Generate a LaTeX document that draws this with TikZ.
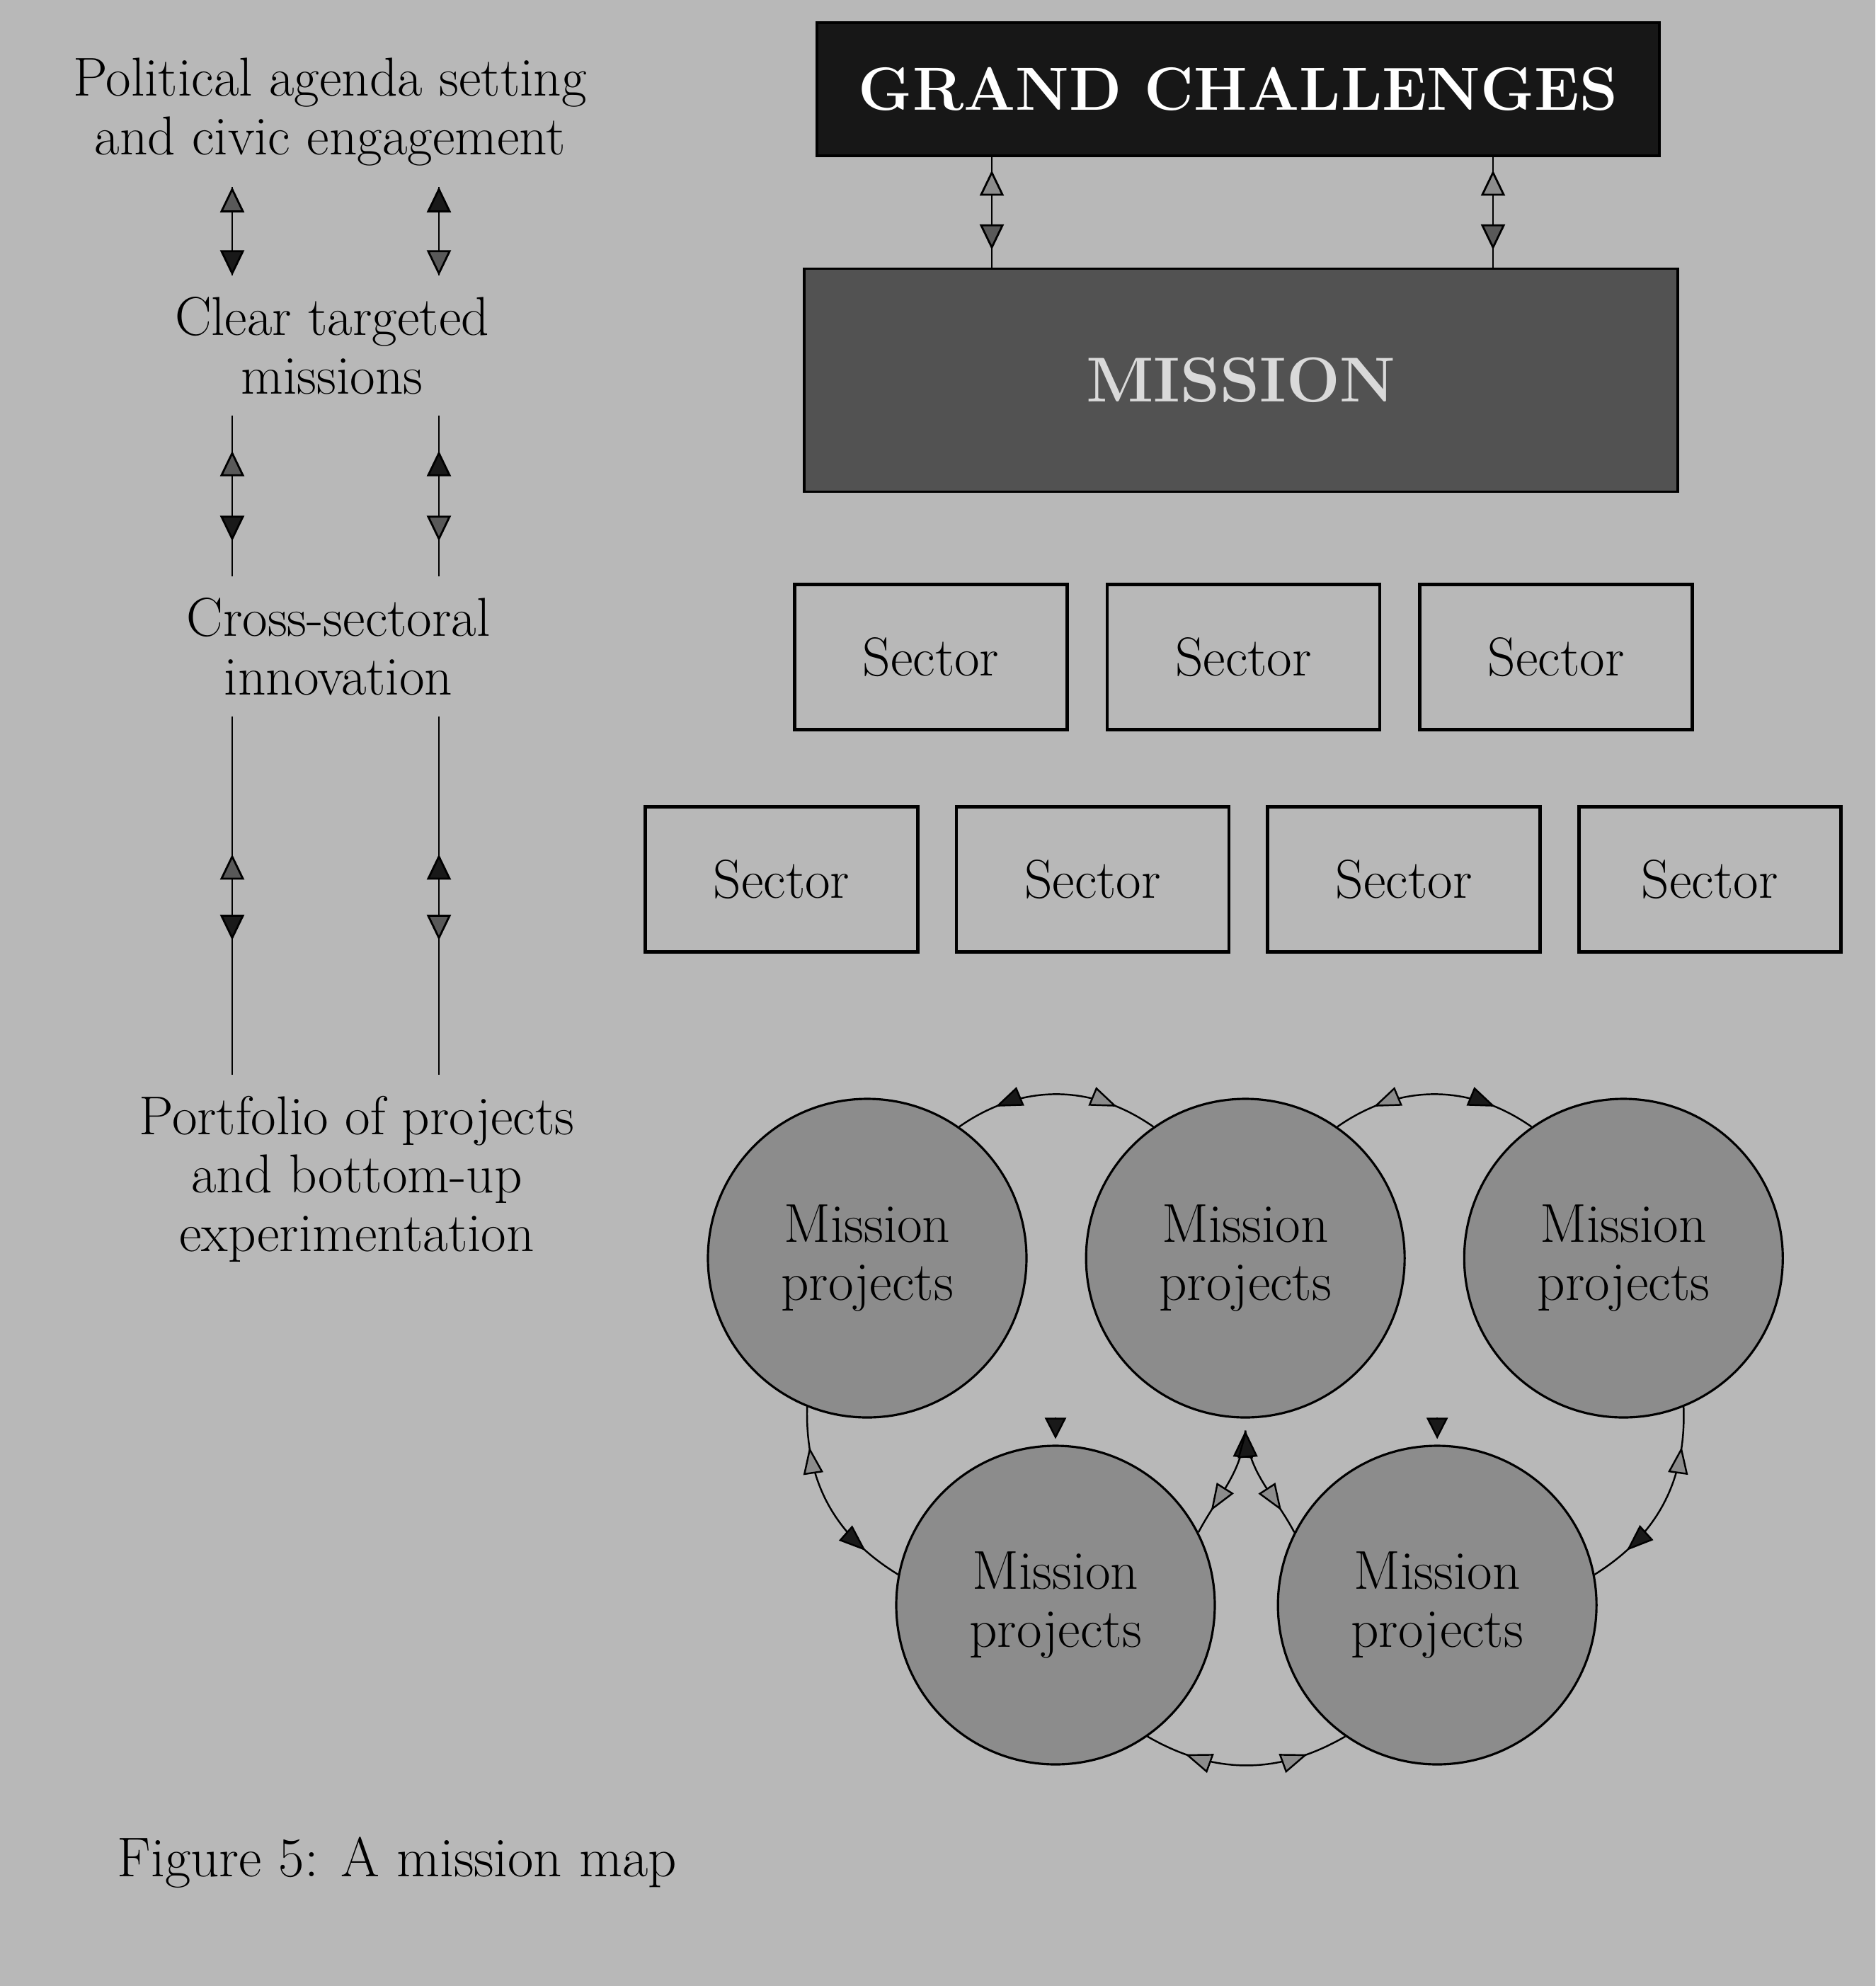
\documentclass[tikz,border=0pt]{standalone}
\usepackage{fontspec}
\usetikzlibrary{arrows.meta,positioning,decorations.markings}
\definecolor{paper}{gray}{0.72}
\definecolor{darkbox}{gray}{0.09}
\definecolor{missionbox}{gray}{0.32}
\definecolor{ringfill}{gray}{0.55}
\definecolor{tipdark}{gray}{0.1}
\definecolor{tipmid}{gray}{0.35}
\definecolor{tiplight}{gray}{0.55}

\begin{document}
\begin{tikzpicture}[
  node distance=0.52cm,
  stage/.style={font=\fontsize{22}{23.5}\selectfont, align=center, inner sep=0pt, outer ysep=3mm},
  banner/.style={draw, line width=1pt, minimum width=11.9cm, minimum height=1.88cm,
    fill=darkbox, text=white, font=\fontsize{24.5}{27}\selectfont\bfseries},
  sector/.style={draw, line width=1.3pt, minimum width=3.85cm, minimum height=2.05cm,
    font=\fontsize{22}{24}\selectfont},
  project/.style={draw, circle, line width=0.9pt, fill=ringfill, minimum size=4.5cm,
    inner sep=0pt, align=center, font=\fontsize{22}{23.5}\selectfont},
  twoway/.style n args={4}{line width=0.8pt, decoration={markings,
      mark=at position #1 with {\arrowreversed{Triangle[length=3.6mm,width=3.4mm,fill=#2]}},
      mark=at position #3 with {\arrow{Triangle[length=3.6mm,width=3.4mm,fill=#4]}}},
    postaction={decorate}},
  ringway/.style n args={4}{line width=0.7pt, decoration={markings,
      mark=at position #1 with {\arrowreversed{Triangle[length=3.8mm,width=2.8mm,fill=#2]}},
      mark=at position #3 with {\arrow{Triangle[length=3.8mm,width=2.8mm,fill=#4]}}},
    postaction={decorate}},
  tiponly/.style={line width=0.7pt, -{Triangle[length=3mm,width=3mm,fill=tipdark]}}
]

\fill[paper] (0,0) rectangle (26.49,-28.05);
\useasboundingbox (0,0) rectangle (26.49,-28.05);

% left column
\node[stage] (agenda) at (4.66,-1.58) {Political agenda setting\\and civic engagement};
\node[stage] (targeted) at (4.69,-4.88) {Clear targeted\\missions};
\node[stage] (crosssec) at (4.78,-9.13) {Cross-sectoral\\innovation};
\node[stage] (portfolio) at (5.04,-16.65) {Portfolio of projects\\and bottom-up\\experimentation};
\coordinate (colL) at (3.28,0);
\coordinate (colR) at (6.2,0);

\draw[twoway={0}{tipmid}{1}{tipdark}] (agenda.south -| colL) -- (targeted.north -| colL);
\draw[twoway={0}{tipdark}{1}{tipmid}] (agenda.south -| colR) -- (targeted.north -| colR);
\draw[twoway={0.22}{tipmid}{0.78}{tipdark}] (targeted.south -| colL) -- (crosssec.north -| colL);
\draw[twoway={0.22}{tipdark}{0.78}{tipmid}] (targeted.south -| colR) -- (crosssec.north -| colR);
\draw[twoway={0.385}{tipmid}{0.625}{tipdark}] (crosssec.south -| colL) -- (portfolio.north -| colL);
\draw[twoway={0.385}{tipdark}{0.625}{tipmid}] (crosssec.south -| colR) -- (portfolio.north -| colR);

% top boxes
\node[banner] (grand) at (17.49,-1.26) {GRAND CHALLENGES};
\node[banner, fill=missionbox, text=white!85!black, minimum width=12.34cm,
  minimum height=3.15cm, font=\fontsize{25.5}{28}\selectfont\bfseries] (mission) at (17.53,-5.37) {MISSION};
\coordinate (linkL) at (14.01,0);
\coordinate (linkR) at (21.09,0);
\draw[twoway={0.12}{tiplight}{0.84}{tipmid}] (grand.south -| linkL) -- (mission.north -| linkL);
\draw[twoway={0.12}{tiplight}{0.84}{tipmid}] (grand.south -| linkR) -- (mission.north -| linkR);

% sectors
\node[sector] (sec1) at (13.15,-9.28) {Sector};
\node[sector, right=of sec1] (sec2) {Sector};
\node[sector, right=of sec2] (sec3) {Sector};
\node[sector] (sec4) at (11.04,-12.42) {Sector};
\node[sector, right=0.5cm of sec4] (sec5) {Sector};
\node[sector, right=0.5cm of sec5] (sec6) {Sector};
\node[sector, right=0.5cm of sec6, minimum width=3.7cm] (sec7) {Sector};

% mission projects
\node[project] (tl) at (12.25,-17.77) {Mission\\projects};
\node[project, right=0.81cm of tl] (tm) {Mission\\projects};
\node[project, right=0.81cm of tm] (tr) {Mission\\projects};
\node[project] (bl) at (14.91,-22.67) {Mission\\projects};
\node[project, right=0.86cm of bl] (br) {Mission\\projects};

\draw[ringway={0.2}{tipdark}{0.8}{tiplight}] (tl.55) to[bend left=35] (tm.125);
\draw[ringway={0.2}{tiplight}{0.8}{tipdark}] (tm.55) to[bend left=35] (tr.125);
\draw[ringway={0.2}{tiplight}{0.8}{tipdark}] (tl.248) to[bend right=30] (bl.169);
\draw[ringway={0.2}{tiplight}{0.8}{tipdark}] (tr.292) to[bend left=30] (br.11);
\draw[ringway={0.2}{tiplight}{0.8}{tiplight}] (bl.305) to[bend right=30] (br.235);
\coordinate[below=0.17cm of tm.south] (fork);
\draw[ringway={0}{tipdark}{0.78}{tiplight}] (fork) to[out=-95,in=62] (bl.27);
\draw[ringway={0}{tipdark}{0.78}{tiplight}] (fork) to[out=-85,in=118] (br.153);
\coordinate[above=0.38cm of bl.north] (dropL);
\coordinate[above=0.08cm of bl.north] (hitL);
\coordinate[above=0.38cm of br.north] (dropR);
\coordinate[above=0.08cm of br.north] (hitR);
\draw[tiponly] (dropL) -- (hitL);
\draw[tiponly] (dropR) -- (hitR);

\node[font=\fontsize{22.5}{26}\selectfont, anchor=base west, inner sep=0pt] (caption)
  at (1.65,-26.5) {Figure 5: A mission map};
\end{tikzpicture}
\end{document}
